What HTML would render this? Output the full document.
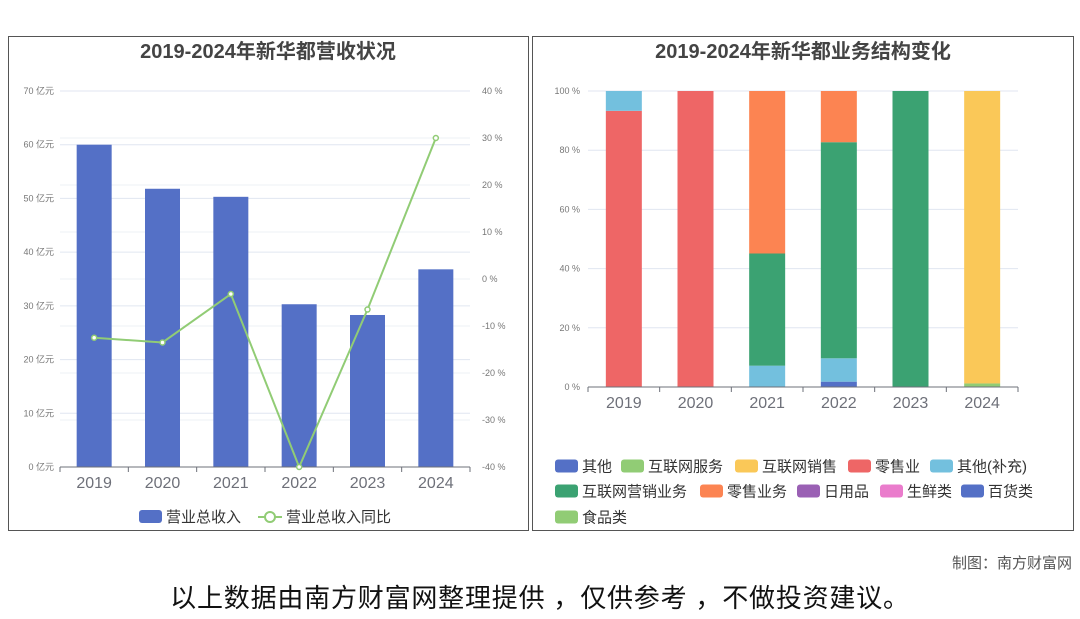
<!DOCTYPE html>
<html><head><meta charset="utf-8"><style>
body{margin:0;background:#fff;width:1080px;height:614px;overflow:hidden;font-family:"Liberation Sans","Noto Sans CJK SC",sans-serif}
svg text{font-family:"Liberation Sans","Noto Sans CJK SC",sans-serif}
</style></head><body>
<svg id="s" width="1080" height="614">
<rect x="8.5" y="36.5" width="520" height="494" fill="#fff" stroke="#555"/>
<rect x="532.5" y="36.5" width="541" height="494" fill="#fff" stroke="#555"/>
<text x="268" y="58" text-anchor="middle" font-size="20" font-weight="bold" fill="#444">2019-2024年新华都营收状况</text>
<text x="803" y="58" text-anchor="middle" font-size="20" font-weight="bold" fill="#444">2019-2024年新华都业务结构变化</text>
<g id="L"></g><g id="R"></g>
<text x="1072" y="568" text-anchor="end" font-size="15" fill="#555">制图：南方财富网</text>
<text x="540" y="607" text-anchor="middle" font-size="26" letter-spacing="0.8" fill="#111">以上数据由南方财富网整理提供 ，仅供参考 ，不做投资建议。</text>
</svg>
<script>
const years=['2019','2020','2021','2022','2023','2024'];
const revenue=[60,51.8,50.3,30.3,28.3,36.8];
const growth=[-12.5,-13.5,-3.2,-40,-6.5,30];
const leftTicks=[0,10,20,30,40,50,60,70];
const rightTicks=[-40,-30,-20,-10,0,10,20,30,40];
const segNames=['其他','互联网服务','互联网销售','零售业','其他(补充)','互联网营销业务','零售业务','日用品','生鲜类','百货类','食品类'];
const segColors=['#5470c6','#91cc75','#fac858','#ee6666','#73c0de','#3ba272','#fc8452','#9a60b4','#ea7ccc','#5470c6','#91cc75'];
const seg_qita=[0,0,0,0,0,0];
const seg_hlwfw=[0,0,0,0,0,1.2];
const seg_hlwxs=[0,0,0,0,0,98.8];
const seg_lsy=[93.3,100,0,0,0,0];
const seg_qtbc=[6.7,0,7.2,7.9,0,0];
const seg_yxyw=[0,0,37.9,73,100,0];
const seg_lsyw=[0,0,54.9,17.3,0,0];
const seg_ryp=[0,0,0,0,0,0];
const seg_sx=[0,0,0,0,0,0];
const seg_bh=[0,0,0,1.8,0,0];
const seg_sp=[0,0,0,0,0,0];
const pctTicks=[0,20,40,60,80,100];
const NS='http://www.w3.org/2000/svg';
function mk(p,t,a,txt){const e=document.createElementNS(NS,t);for(const k in a)e.setAttribute(k,a[k]);if(txt!=null)e.textContent=txt;p.appendChild(e);return e;}
const L=document.getElementById('L'),R=document.getElementById('R');
const lx0=60,lx1=470,ly0=467,ly1=91;
const yL=v=>ly0-(v/70)*(ly0-ly1);
const yR=v=>ly0-((v+40)/80)*(ly0-ly1);
const bw=(lx1-lx0)/6;
const cx=i=>lx0+bw*(i+0.5);
rightTicks.forEach(t=>{const g=mk(L,'line',{x1:lx0,x2:lx1,y1:yR(t),y2:yR(t),stroke:'#eef0f6'});
const tx=mk(L,'text',{x:lx1+12,y:yR(t)+3,'font-size':9,fill:'#777'},t+' %');});
leftTicks.forEach(t=>{const g=mk(L,'line',{x1:lx0,x2:lx1,y1:yL(t),y2:yL(t),stroke:'#e0e6f1'});
const tx=mk(L,'text',{x:lx0-6,y:yL(t)+3,'font-size':9,fill:'#777','text-anchor':'end'},t+' 亿元');});
revenue.forEach((v,i)=>{const r=mk(L,'rect',{x:cx(i)-17.5,y:yL(v),width:35,height:ly0-yL(v),fill:'#5470c6'});});
mk(L,'line',{x1:lx0,x2:lx1,y1:ly0,y2:ly0,stroke:'#6e7079'});
years.forEach((y,i)=>{mk(L,'line',{x1:lx0+bw*i,x2:lx0+bw*i,y1:ly0,y2:ly0+5,stroke:'#6e7079'});
const t=mk(L,'text',{x:cx(i),y:ly0+21,'font-size':16,fill:'#6e7079','text-anchor':'middle'},y);});
mk(L,'line',{x1:lx1,x2:lx1,y1:ly0,y2:ly0+5,stroke:'#6e7079'});
const pl=mk(L,'polyline',{points:growth.map((v,i)=>cx(i)+','+yR(v)).join(' '),fill:'none',stroke:'#91cc75','stroke-width':2});

growth.forEach((v,i)=>{const c=mk(L,'circle',{cx:cx(i),cy:yR(v),r:2.5,fill:'#fff',stroke:'#91cc75','stroke-width':1.5});});
let lg=mk(L,'rect',{x:139,y:510,width:23,height:13,rx:3,fill:'#5470c6'});
lg=mk(L,'text',{x:166,y:522,'font-size':15,fill:'#333'},'营业总收入');
mk(L,'line',{x1:258,x2:282,y1:517,y2:517,stroke:'#91cc75','stroke-width':2});
lg=mk(L,'circle',{cx:270,cy:517,r:5,fill:'#fff',stroke:'#91cc75','stroke-width':2});
lg=mk(L,'text',{x:286,y:522,'font-size':15,fill:'#333'},'营业总收入同比');
const rx0=588,rx1=1018,ry0=387,ry1=91;
const yP=v=>ry0-(v/100)*(ry0-ry1);
const rbw=(rx1-rx0)/6;const rcx=i=>rx0+rbw*(i+0.5);
pctTicks.forEach(t=>{const g=mk(R,'line',{x1:rx0,x2:rx1,y1:yP(t),y2:yP(t),stroke:'#e0e6f1'});
const tx=mk(R,'text',{x:rx0-8,y:yP(t)+3,'font-size':9,fill:'#777','text-anchor':'end'},t+' %');});
const segs=[seg_qita,seg_hlwfw,seg_hlwxs,seg_lsy,seg_bh,seg_qtbc,seg_yxyw,seg_lsyw,seg_ryp,seg_sx,seg_sp];
const segIdx=[0,1,2,3,9,4,5,6,7,8,10];
years.forEach((y,i)=>{let acc=0;segs.forEach((s,k)=>{const v=s[i];if(v<=0)return;const j=segIdx[k];
const r=mk(R,'rect',{x:rcx(i)-18,y:yP(acc+v),width:36,height:yP(acc)-yP(acc+v),fill:segColors[j]});
acc+=v;});});
mk(R,'line',{x1:rx0,x2:rx1,y1:ry0,y2:ry0,stroke:'#6e7079'});
years.forEach((y,i)=>{mk(R,'line',{x1:rx0+rbw*i,x2:rx0+rbw*i,y1:ry0,y2:ry0+5,stroke:'#6e7079'});
const t=mk(R,'text',{x:rcx(i),y:ry0+21,'font-size':16,fill:'#6e7079','text-anchor':'middle'},y);});
mk(R,'line',{x1:rx1,x2:rx1,y1:ry0,y2:ry0+5,stroke:'#6e7079'});
const legPos=[[555,466],[621,466],[735,466],[848,466],[930,466],[555,491],[700,491],[797,491],[880,491],[961,491],[555,517]];
segNames.forEach((n,j)=>{const [x,y]=legPos[j];
const r=mk(R,'rect',{x:x,y:y-6.5,width:23,height:13,rx:3,fill:segColors[j]});
const t=mk(R,'text',{x:x+27,y:y+5.5,'font-size':15,fill:'#333'},n);});
</script>
</body></html>
